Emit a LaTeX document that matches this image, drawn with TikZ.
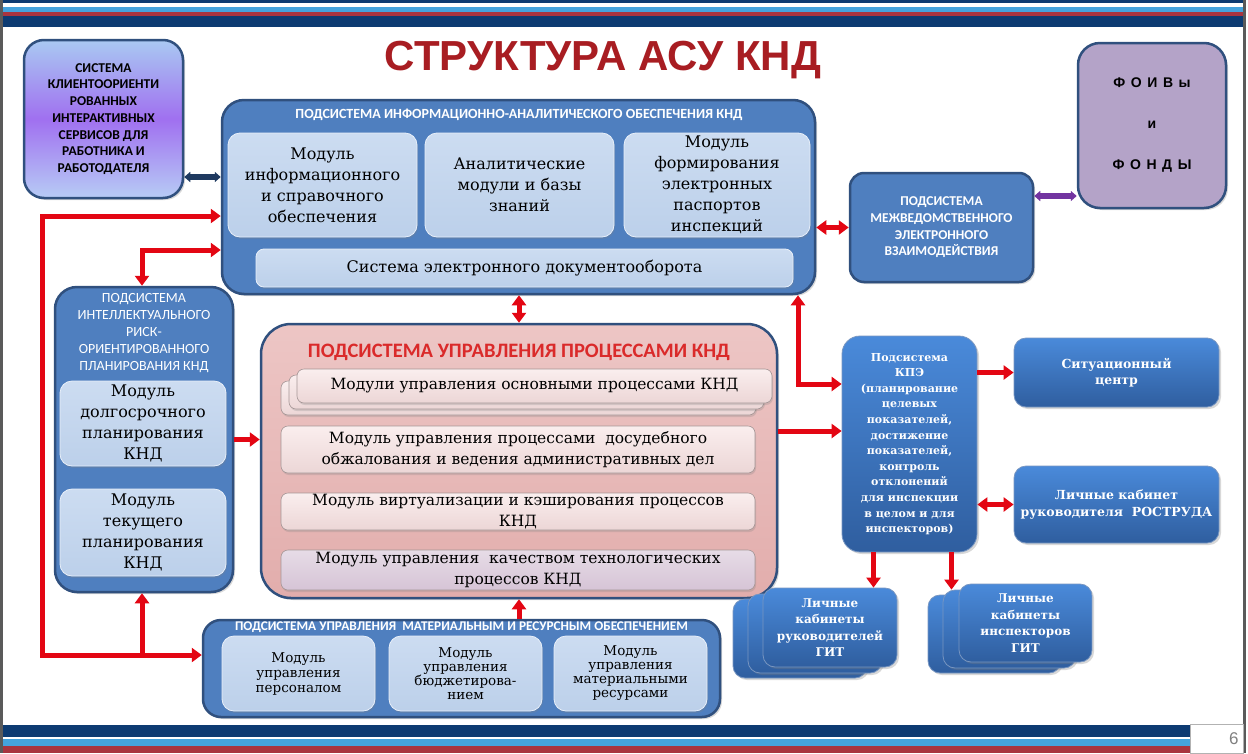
\documentclass[tikz,border=0pt]{standalone}
\usepackage{fontspec}
\setmainfont{DejaVu Serif}
\newfontfamily\capsfont{Carlito}
\newfontfamily\headfont{Liberation Sans}
\newfontfamily\spacedfont[LetterSpace=12]{Liberation Sans}
\usetikzlibrary{arrows.meta,shadows,shadings}

\definecolor{bandnavy}{HTML}{0D3B72}
\definecolor{bandsky}{HTML}{45A3DD}
\definecolor{bandred}{HTML}{A9343F}
\definecolor{framegray}{HTML}{5A5A5A}
\definecolor{boxblue}{HTML}{4F7FBF}
\definecolor{contline}{HTML}{30507E}
\definecolor{modtop}{HTML}{CCDCF1}
\definecolor{modbot}{HTML}{BCD0EA}
\definecolor{proctop}{HTML}{EDC6C5}
\definecolor{procbot}{HTML}{E2ADAC}
\definecolor{pmtop}{HTML}{FAEEEE}
\definecolor{pmbot}{HTML}{ECD6D6}
\definecolor{pmlilac}{HTML}{D6C4D6}
\definecolor{foivfill}{HTML}{B4A3C8}
\definecolor{kpetop}{HTML}{4A8ADA}
\definecolor{kpebot}{HTML}{2F5E9F}
\definecolor{arrred}{HTML}{E30613}
\definecolor{arrnavy}{HTML}{1F3A60}
\definecolor{arrviolet}{HTML}{7234A0}
\definecolor{titlered}{HTML}{A81D22}
\definecolor{procred}{HTML}{DA2A2A}
\definecolor{clitop}{HTML}{A9C9F2}
\definecolor{climid}{HTML}{A070F0}
\definecolor{clibot}{HTML}{B7CCF5}

\begin{document}
\begin{tikzpicture}[x=1pt,y=-1pt,
  cont/.style={draw=contline,line width=2.5pt,fill=boxblue,rounded corners=22pt,inner sep=0pt,
    drop shadow={opacity=0.3,shadow xshift=2pt,shadow yshift=-2pt}},
  conthead/.style={font=\capsfont\bfseries\fontsize{13.5}{16.8}\selectfont,text=white,align=center,inner sep=0pt},
  modbox/.style={top color=modtop,bottom color=modbot,draw=white!55!modtop,line width=0.8pt,
    rounded corners=12pt,align=center,inner sep=0pt,font=\fontsize{16}{21}\selectfont,
    drop shadow={opacity=0.25,shadow xshift=1pt,shadow yshift=-2pt}},
  pmod/.style={top color=pmtop,bottom color=pmbot,draw=pmbot!70!black,line width=0.6pt,
    rounded corners=7pt,align=center,inner sep=0pt,font=\fontsize{15.5}{21}\selectfont,
    drop shadow={opacity=0.25,shadow xshift=1pt,shadow yshift=-2pt}},
  bluebox/.style={top color=kpetop,bottom color=kpebot,draw=white!35!kpebot,line width=0.8pt,
    rounded corners=14pt,align=center,inner sep=0pt,text=white,
    drop shadow={opacity=0.3,shadow xshift=2pt,shadow yshift=-2pt}},
  redline/.style={draw=arrred,line width=5pt,>={Triangle[length=10pt,width=14pt]}},
  navyline/.style={draw=arrnavy,line width=6pt,>={Triangle[length=6pt,width=10pt]}},
  violetline/.style={draw=arrviolet,line width=6pt,>={Triangle[length=6pt,width=10pt]}}]

  \fill[white] (0,0) rectangle (1248,753);
  \useasboundingbox (0,0) rectangle (1248,753);

  % slide bands and frame
  \fill[bandnavy] (3,0) rectangle (1243,3);
  \fill[bandsky] (3,7) rectangle (1243,12);
  \fill[bandred] (3,12) rectangle (1243,16);
  \fill[bandnavy] (3,16) rectangle (1243,27);
  \fill[bandnavy] (3,725) rectangle (1190,737);
  \fill[bandsky] (3,739) rectangle (1190,746);
  \fill[bandred] (3,746) rectangle (1190,753);
  \draw[framegray,line width=3pt] (1.5,0) -- (1.5,753);
  \draw[framegray,line width=3pt] (1244.5,0) -- (1244.5,753);
  \node[draw=gray!60,fill=white,minimum width=53pt,minimum height=29pt,inner sep=0pt,
    text width=44pt,align=right,text=gray,font=\headfont\fontsize{17}{17}\selectfont] (pg) at (1216.5,739) {6};

  \node[font=\headfont\bfseries\fontsize{42}{42}\selectfont,text=titlered,inner sep=0pt] (title) at (603,60) {СТРУКТУРА АСУ КНД};

  % client services
  \node[draw=contline,line width=2.5pt,top color=clitop,bottom color=clibot,middle color=climid,
    rounded corners=20pt,minimum width=159pt,minimum height=158pt,inner sep=0pt,align=center,
    font=\capsfont\bfseries\fontsize{13.5}{16.7}\selectfont,
    drop shadow={opacity=0.3,shadow xshift=2pt,shadow yshift=-2pt}] (cli) at (103.5,119)
    {СИСТЕМА\\КЛИЕНТООРИЕНТИ\\РОВАННЫХ\\ИНТЕРАКТИВНЫХ\\СЕРВИСОВ ДЛЯ\\РАБОТНИКА И\\РАБОТОДАТЕЛЯ};

  % information subsystem
  \node[cont,minimum width=593pt,minimum height=194pt] (info) at (518.5,197) {};
  \node[conthead,font=\capsfont\bfseries\fontsize{14}{16.8}\selectfont] (infot) at (519,115) {ПОДСИСТЕМА ИНФОРМАЦИОННО-АНАЛИТИЧЕСКОГО ОБЕСПЕЧЕНИЯ КНД};
  \node[modbox,minimum width=189pt,minimum height=104pt] (im1) at (322.5,185) {Модуль\\информационного\\и справочного\\обеспечения};
  \node[modbox,minimum width=189pt,minimum height=104pt] (im2) at (519.5,185) {Аналитические\\модули и базы\\знаний};
  \node[modbox,minimum width=186pt,minimum height=104pt] (im3) at (717,185) {Модуль\\формирования\\электронных\\паспортов\\инспекций};
  \node[modbox,rounded corners=8pt,minimum width=537pt,minimum height=38pt] (doc) at (524.5,268) {Система электронного документооборота};

  % foivs and interagency
  \node[draw=contline,line width=2.5pt,fill=foivfill,rounded corners=22pt,minimum width=148pt,
    minimum height=165pt,inner sep=0pt,align=center,font=\spacedfont\bfseries\fontsize{14}{41}\selectfont,
    drop shadow={opacity=0.3,shadow xshift=2pt,shadow yshift=-2pt}] (foiv) at (1152,125.5)
    {Ф О И В ы\\и\\Ф О Н Д Ы};
  \node[cont,rounded corners=14pt,minimum width=183pt,minimum height=109pt,align=center,text=white,
    font=\capsfont\bfseries\fontsize{13.5}{16.7}\selectfont] (mivb) at (941.5,227.5)
    {ПОДСИСТЕМА\\МЕЖВЕДОМСТВЕННОГО\\ЭЛЕКТРОННОГО\\ВЗАИМОДЕЙСТВИЯ};

  % risk planning subsystem
  \node[cont,minimum width=178pt,minimum height=305pt] (risk) at (144,439.5) {};
  \node[conthead,font=\capsfont\fontsize{14}{16.8}\selectfont] (riskt) at (144,333)
    {ПОДСИСТЕМА\\ИНТЕЛЛЕКТУАЛЬНОГО\\РИСК-\\ОРИЕНТИРОВАННОГО\\ПЛАНИРОВАНИЯ КНД};
  \node[modbox,minimum width=166pt,minimum height=85pt] (rm1) at (143,423.5) {Модуль\\долгосрочного\\планирования\\КНД};
  \node[modbox,minimum width=166pt,minimum height=87pt] (rm2) at (143,532.5) {Модуль\\текущего\\планирования\\КНД};

  % process subsystem
  \node[cont,top color=proctop,bottom color=procbot,rounded corners=30pt,minimum width=516pt,minimum height=274pt] (proc) at (519,461) {};
  \node[conthead,text=procred,font=\capsfont\bfseries\fontsize{20.5}{20.5}\selectfont] (proct) at (519,352) {ПОДСИСТЕМА УПРАВЛЕНИЯ ПРОЦЕССАМИ КНД};
  \node[pmod,minimum width=475pt,minimum height=34pt] (pm1c) at (518.5,398) {};
  \node[pmod,minimum width=475pt,minimum height=34pt] (pm1b) at (526.5,392) {};
  \node[pmod,minimum width=475pt,minimum height=34pt] (pm1) at (534.5,386) {Модули управления основными процессами КНД};
  \node[pmod,minimum width=474pt,minimum height=47pt] (pm2) at (518,449.5) {Модуль управления процессами \ досудебного\\обжалования и ведения административных дел};
  \node[pmod,minimum width=474pt,minimum height=37pt] (pm3) at (518,511.5) {Модуль виртуализации и кэширования процессов\\КНД};
  \node[pmod,top color=pmlilac!60!white,bottom color=pmlilac,minimum width=474pt,minimum height=40pt] (pm4) at (518,570) {Модуль управления \ качеством технологических\\процессов КНД};

  % material subsystem
  \node[cont,rounded corners=18pt,minimum width=517pt,minimum height=97pt] (mat) at (461.5,668.5) {};
  \node[conthead,font=\capsfont\bfseries\fontsize{13.3}{13.3}\selectfont] (matt) at (461.5,627.5) {ПОДСИСТЕМА УПРАВЛЕНИЯ \ МАТЕРИАЛЬНЫМ И РЕСУРСНЫМ ОБЕСПЕЧЕНИЕМ};
  \node[modbox,font=\fontsize{13.5}{15}\selectfont,minimum width=153pt,minimum height=75pt] (mm1) at (298.5,673.5) {Модуль\\управления\\персоналом};
  \node[modbox,font=\fontsize{13.5}{14}\selectfont,minimum width=153pt,minimum height=75pt] (mm2) at (465.5,673.5) {Модуль\\управления\\бюджетирова-\\нием};
  \node[modbox,font=\fontsize{13.5}{14}\selectfont,minimum width=153pt,minimum height=75pt] (mm3) at (630.5,673.5) {Модуль\\управления\\материальными\\ресурсами};

  % kpe and outputs
  \node[bluebox,rounded corners=18pt,minimum width=135pt,minimum height=216pt,font=\bfseries\fontsize{11}{15.6}\selectfont] (kpe) at (909.5,444)
    {Подсистема\\КПЭ\\(планирование\\целевых\\показателей,\\достижение\\показателей,\\контроль\\отклонений\\для инспекции\\в целом и для\\инспекторов)};
  \node[bluebox,rounded corners=12pt,minimum width=205pt,minimum height=69pt,font=\bfseries\fontsize{12.5}{16.5}\selectfont] (sit) at (1116.5,372.5) {Ситуационный\\центр};
  \node[bluebox,rounded corners=12pt,minimum width=205pt,minimum height=77pt,font=\bfseries\fontsize{12.5}{16.5}\selectfont] (rost) at (1116.5,504.5) {Личные кабинет\\руководителя \ РОСТРУДА};
  \node[bluebox,rounded corners=12pt,minimum width=134pt,minimum height=79pt] (gitr3) at (800,638.5) {};
  \node[bluebox,rounded corners=12pt,minimum width=134pt,minimum height=79pt] (gitr2) at (815,633.5) {};
  \node[bluebox,rounded corners=12pt,minimum width=134pt,minimum height=79pt,font=\bfseries\fontsize{12}{16.5}\selectfont] (gitr) at (830,627.5) {Личные\\кабинеты\\руководителей\\ГИТ};
  \node[bluebox,rounded corners=12pt,minimum width=133pt,minimum height=78pt] (giti3) at (994.5,634) {};
  \node[bluebox,rounded corners=12pt,minimum width=133pt,minimum height=78pt] (giti2) at (1009.5,629) {};
  \node[bluebox,rounded corners=12pt,minimum width=133pt,minimum height=78pt,font=\bfseries\fontsize{12}{16.5}\selectfont] (giti) at (1025.5,623) {Личные\\кабинеты\\инспекторов\\ГИТ};

  % connectors
  \coordinate (lt) at (42,216);
  \coordinate (lb) at (42,655);
  \coordinate (rt) at (142,250);
  \coordinate (kc) at (798,384);
  \coordinate (ce) at ([yshift=-58pt]cli.east);
  \coordinate (me) at ([yshift=31.5pt]mivb.east);
  \coordinate (pe) at ([yshift=30pt]proc.east);
  \coordinate (kb1) at ([xshift=-36pt]kpe.south);
  \coordinate (kb2) at ([xshift=42pt]kpe.south);

  \draw[navyline,<->] (ce) -- (ce -| info.west);
  \draw[violetline,<->] (me) -- (me -| foiv.west);
  \draw[redline,<->] (info.west |- lt) -- (lt) -- (lb) -- (mat.west |- lb);
  \draw[redline,<->] (risk.north -| rt) -- (rt) -- (info.west |- rt);
  \draw[redline,->] (lb -| rt) -- (risk.south -| rt);
  \draw[redline,->] (risk.east) -- (risk.east -| proc.west);
  \draw[redline,<->] (info.south -| proc.north) -- (proc.north);
  \draw[redline,->] (mat.north -| proc.south) -- (proc.south);
  \draw[redline,<->] (mivb.west -| info.east) -- (mivb.west);
  \draw[redline,<->] (info.south -| kc) -- (kc) -- (kc -| kpe.west);
  \draw[redline,->] (pe) -- (pe -| kpe.west);
  \draw[redline,->] (kpe.east |- sit.west) -- (sit.west);
  \draw[redline,<->] (kpe.east |- rost.west) -- (rost.west);
  \draw[redline,->] (kb1) -- (kb1 |- gitr.north);
  \draw[redline,->] (kb2) -- (kb2 |- giti2.north);
\end{tikzpicture}
\end{document}
